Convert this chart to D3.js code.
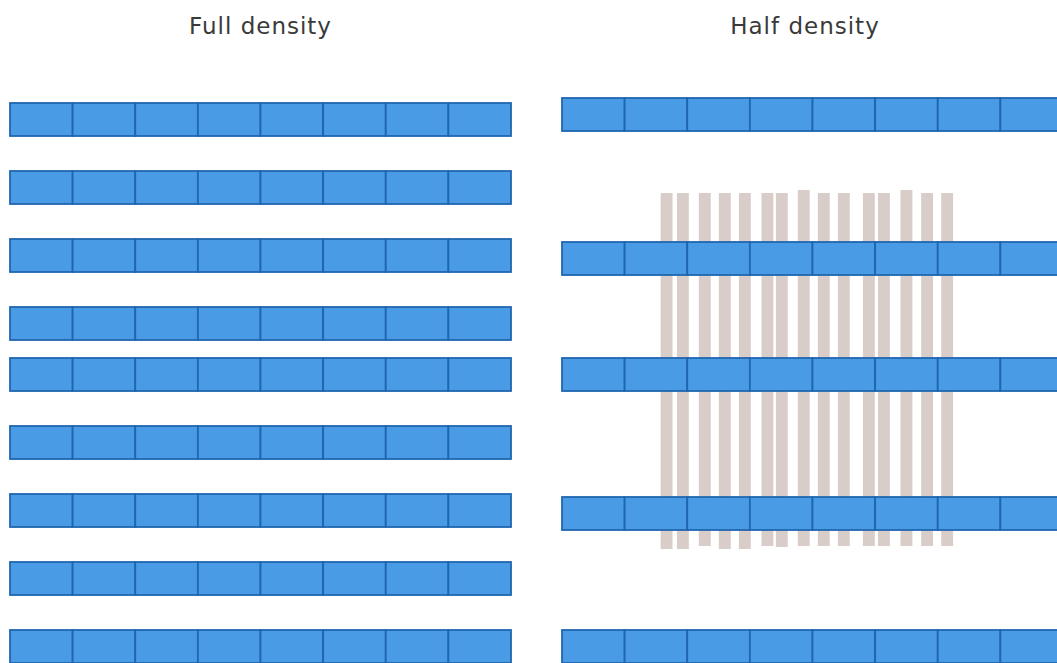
<!DOCTYPE html>
<html>
<head>
<meta charset="utf-8">
<script src="https://cdn.jsdelivr.net/npm/d3@7"></script>
<style>
  body { margin: 0; background: #fff; }
  svg { display: block; }
</style>
</head>
<body>
<svg id="chart" width="1057" height="663"></svg>
<script>
// panels
var panelTitles = ["Full density", "Half density"];

// row top positions (in tenths of a pixel row unit) for each panel
var fullRows = [10.3, 17.1, 23.9, 30.7, 35.8, 42.6, 49.4, 56.2, 63.0];
var halfRows = [9.8, 24.2, 35.8, 49.7, 63.0];

var cellsPerRow = 8;

// vertical pillars behind the half density rows: position (in cells), top, bottom
var pillarPos = [1.67, 1.93, 2.28, 2.60, 2.92, 3.28, 3.51, 3.86, 4.18, 4.50, 4.90, 5.14, 5.50, 5.83, 6.15];
var pillarTop = [19.3, 19.3, 19.3, 19.3, 19.3, 19.3, 19.3, 19.0, 19.3, 19.3, 19.3, 19.3, 19.0, 19.3, 19.3];
var pillarBottom = [54.9, 54.9, 54.6, 54.9, 54.9, 54.6, 54.7, 54.6, 54.6, 54.6, 54.6, 54.6, 54.6, 54.6, 54.6];

const ROW_HEIGHT = 3.3; // same units as rows
const BLUE = "#4a9be6";
const BLUE_EDGE = "#2066ae";
const PILLAR = "#d9cdca";

var svg = d3.select("#chart");

var y = d3.scaleLinear().domain([0, 66.3]).range([0, 663]);

// x scales in cell units, one per panel
var xFull = d3.scaleLinear().domain([0, cellsPerRow]).range([10, 511]);
var xHalf = d3.scaleLinear().domain([0, cellsPerRow]).range([562, 1063]);

var cells = d3.range(cellsPerRow);

function drawRows(g, rows, x) {
  var row = g.selectAll("g.row")
    .data(rows)
    .join("g")
    .attr("class", "row")
    .attr("transform", function (d) { return "translate(0," + y(d) + ")"; });

  row.selectAll("rect")
    .data(cells)
    .join("rect")
    .attr("x", function (d) { return x(d); })
    .attr("y", 0)
    .attr("width", function (d) { return x(d + 1) - x(d); })
    .attr("height", y(ROW_HEIGHT) - y(0))
    .attr("fill", BLUE)
    .attr("stroke", BLUE_EDGE)
    .attr("stroke-width", 1.8);
}

// titles
svg.selectAll("text.title")
  .data(panelTitles)
  .join("text")
  .attr("class", "title")
  .attr("x", function (d, i) { return i === 0 ? (xFull(0) + xFull(cellsPerRow)) / 2 : 805; })
  .attr("y", 34)
  .attr("text-anchor", "middle")
  .attr("font-family", "'DejaVu Sans', sans-serif")
  .attr("font-size", 23)
  .attr("letter-spacing", 1)
  .attr("fill", "#3a3a3a")
  .text(function (d) { return d; });

var left = svg.append("g").attr("class", "full");
drawRows(left, fullRows, xFull);

var right = svg.append("g").attr("class", "half");

// pillars go behind the rows
var pillars = pillarPos.map(function (p, i) {
  return { pos: p, top: pillarTop[i], bottom: pillarBottom[i] };
});
const PILLAR_W = 0.19; // in cells

right.append("g")
  .selectAll("rect")
  .data(pillars)
  .join("rect")
  .attr("x", function (d) { return xHalf(d.pos - PILLAR_W / 2); })
  .attr("width", xHalf(PILLAR_W) - xHalf(0))
  .attr("y", function (d) { return y(d.top); })
  .attr("height", function (d) { return y(d.bottom) - y(d.top); })
  .attr("fill", PILLAR);

drawRows(right.append("g"), halfRows, xHalf);
</script>
</body>
</html>
